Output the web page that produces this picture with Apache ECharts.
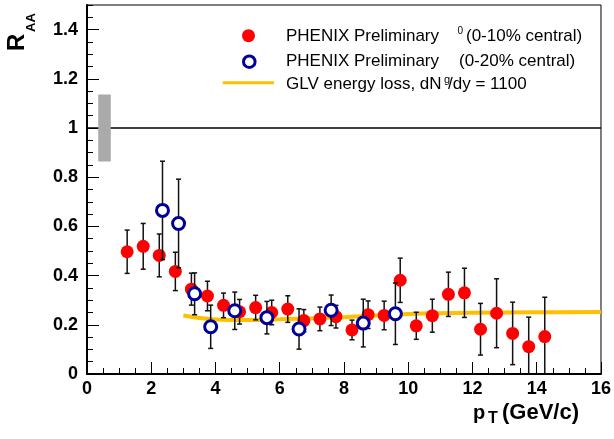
<!DOCTYPE html>
<html><head><meta charset="utf-8">
<script src="https://cdn.jsdelivr.net/npm/echarts@6/dist/echarts.min.js"></script>
<style>html,body{margin:0;padding:0;background:#fff}#c{width:614px;height:439px}</style>
</head><body><div id="c"></div>
<script>
// ---- data ----
const redX = [1.25,1.75,2.25,2.75,3.25,3.75,4.25,4.75,5.25,5.75,6.25,6.75,7.25,7.75,8.25,8.75,9.25,9.75,10.25,10.75,11.25,11.75,12.25,12.75,13.25,13.75,14.25];
const redY = [0.497,0.519,0.482,0.417,0.345,0.317,0.279,0.253,0.27,0.25,0.264,0.217,0.224,0.233,0.179,0.241,0.238,0.381,0.196,0.237,0.324,0.33,0.182,0.247,0.165,0.111,0.152];
const redErr = [0.088,0.093,0.087,0.078,0.065,0.06,0.05,0.05,0.05,0.05,0.054,0.045,0.048,0.046,0.04,0.056,0.058,0.09,0.055,0.067,0.09,0.1,0.105,0.14,0.127,0.12,0.16];
const blueX = [2.35,2.85,3.35,3.85,4.6,5.6,6.6,7.6,8.6,9.6];
const blueY = [0.665,0.612,0.326,0.192,0.257,0.229,0.183,0.259,0.207,0.245];
const blueErr = [0.2,0.18,0.085,0.088,0.076,0.066,0.082,0.062,0.097,0.125];
const glvX = [3.0,3.5,4.0,4.5,5,6,7,8,9,10,12,14,16];
const glvY = [0.238,0.228,0.222,0.22,0.22,0.223,0.227,0.231,0.238,0.244,0.249,0.251,0.252];
const refLineX = [0,16];
const refLineY = [1,1];
const systBox = [0.35,0.864,0.74,1.136]; // x0,y0,x1,y1
const legendLabels = ['PHENIX Preliminary','0','(0-10% central)','(0-20% central)','GLV energy loss, dN','g','/dy = 1100'];

const FF = "'Liberation Sans', Arial, Helvetica, sans-serif";
const RED = '#ff0000', BLUE = '#000099', ORANGE = '#ffc000';

function errSeries(name, xs, ys, es, color, z) {
  return {
    type: 'custom', name, z, clip: true, silent: true,
    xAxisIndex: 0, yAxisIndex: 0,
    encode: {x: 0, y: [1, 2]},
    data: xs.map((x, i) => [x, ys[i] - es[i], ys[i] + es[i]]),
    renderItem(params, api) {
      const x = api.value(0), lo = api.value(1), hi = api.value(2);
      const a = api.coord([x, lo]), b = api.coord([x, hi]);
      const w = 2.5, st = {stroke: color, lineWidth: 1.5};
      return {type: 'group', children: [
        {type: 'line', shape: {x1: a[0], y1: a[1], x2: b[0], y2: b[1]}, style: st},
        {type: 'line', shape: {x1: b[0]-w, y1: b[1], x2: b[0]+w, y2: b[1]}, style: st},
        {type: 'line', shape: {x1: a[0]-w, y1: a[1], x2: a[0]+w, y2: a[1]}, style: st}
      ]};
    }
  };
}

const chart = echarts.init(document.getElementById('c'));
const axLab = {color: '#000', fontSize: 18, fontWeight: 'bold', fontFamily: FF};
const T = (x, y, text, font, extra) => ({type: 'text', x, y, style: Object.assign({text, font: font + ' ' + FF, fill: '#000', align: 'left', verticalAlign: 'middle'}, extra || {})});
chart.setOption({
  animation: false,
  backgroundColor: '#fff',
  grid: {left: 87, right: 12, top: 5, bottom: 65, show: true, borderColor: '#000', borderWidth: 1},
  xAxis: [
    {type: 'value', min: 0, max: 16, interval: 2, position: 'bottom',
     axisLine: {show: true, onZero: false, lineStyle: {color: '#000', width: 2}},
     axisTick: {inside: true, length: 12, lineStyle: {color: '#000', width: 1}},
     axisLabel: Object.assign({margin: 6}, axLab), splitLine: {show: false}},
    {type: 'value', min: 0, max: 16, interval: 0.5, position: 'bottom',
     axisLine: {show: false, onZero: false},
     axisTick: {inside: true, length: 6, lineStyle: {color: '#000', width: 1}},
     axisLabel: {show: false}, splitLine: {show: false}}
  ],
  yAxis: [
    {type: 'value', min: 0, max: 1.5, interval: 0.2, position: 'left',
     axisLine: {show: true, onZero: false, lineStyle: {color: '#000', width: 2}},
     axisTick: {inside: true, length: 12, lineStyle: {color: '#000', width: 1}},
     axisLabel: Object.assign({margin: 9, showMaxLabel: false, formatter: v => (Math.abs(v-1.5)<1e-6 ? '' : String(+v.toFixed(1)))}, axLab),
     splitLine: {show: false}},
    {type: 'value', min: 0, max: 1.5, interval: 0.05, position: 'left',
     axisLine: {show: false, onZero: false},
     axisTick: {inside: true, length: 6, lineStyle: {color: '#000', width: 1}},
     axisLabel: {show: false}, splitLine: {show: false}}
  ],
  series: [
    {type: 'line', name: 'ref', z: 1, symbol: 'none', silent: true,
     data: refLineX.map((x, i) => [x, refLineY[i]]), lineStyle: {color: '#000', width: 1.3}},
    {type: 'custom', name: 'syst', z: 2, silent: true,
     data: [systBox],
     encode: {x: [0, 2], y: [1, 3]},
     renderItem(params, api) {
       const p0 = api.coord([api.value(0), api.value(3)]);
       const p1 = api.coord([api.value(2), api.value(1)]);
       return {type: 'rect', shape: {x: p0[0], y: p0[1], width: p1[0]-p0[0], height: p1[1]-p0[1]}, style: {fill: '#aaaaaa'}};
     }},
    {type: 'line', name: 'GLV', z: 3, symbol: 'none', smooth: 0.4, silent: true,
     data: glvX.map((x, i) => [x, glvY[i]]), lineStyle: {color: ORANGE, width: 4}},
    errSeries('redErr', redX, redY, redErr, '#111', 4),
    {type: 'scatter', name: 'red', z: 5, symbol: 'circle', symbolSize: 13, silent: true,
     data: redX.map((x, i) => [x, redY[i]]), itemStyle: {color: RED, opacity: 1}},
    errSeries('blueErr', blueX, blueY, blueErr, '#111', 6),
    {type: 'scatter', name: 'blue', z: 7, symbol: 'circle', symbolSize: 12, silent: true,
     data: blueX.map((x, i) => [x, blueY[i]]), itemStyle: {color: '#fff', borderColor: BLUE, borderWidth: 3, opacity: 1}}
  ],
  graphic: [
    // y title
    {type: 'text', x: 17, y: 51, rotation: Math.PI/2, style: {text: 'R', font: 'bold 24px ' + FF, fill: '#000', align: 'left', verticalAlign: 'middle'}},
    {type: 'text', x: 31, y: 32, rotation: Math.PI/2, style: {text: 'AA', font: 'bold 13px ' + FF, fill: '#000', align: 'left', verticalAlign: 'middle'}},
    // x title
    T(473, 413, 'p', 'bold 20px'),
    T(488, 419, 'T', 'bold 16px'),
    T(502, 413, '(GeV/c)', 'bold 22px'),
    // legend markers
    {type: 'circle', shape: {cx: 248.5, cy: 35.7, r: 6.5}, style: {fill: RED}},
    {type: 'circle', shape: {cx: 249.3, cy: 61.7, r: 5.8}, style: {fill: '#fff', stroke: BLUE, lineWidth: 3}},
    {type: 'line', shape: {x1: 222.7, y1: 82.7, x2: 274, y2: 82.7}, style: {stroke: ORANGE, lineWidth: 3}},
    // legend texts
    T(286, 36, legendLabels[0], '17px'),
    T(457.5, 31.5, legendLabels[1], '10px'),
    T(466, 36, legendLabels[2], '17px'),
    T(286, 61.5, legendLabels[0], '17px'),
    T(459, 61.5, legendLabels[3], '17px'),
    T(286, 84, legendLabels[4], '17px'),
    T(444, 80, legendLabels[5], '11px'),
    T(448, 84, legendLabels[6], '17px')
  ]
});
</script></body></html>
